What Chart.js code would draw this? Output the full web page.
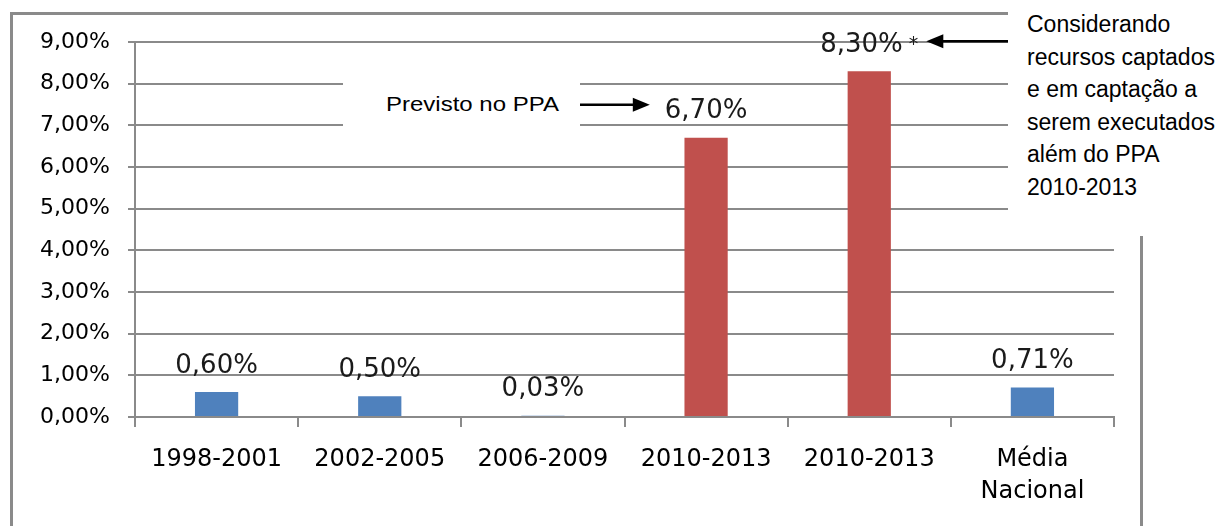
<!DOCTYPE html>
<html>
<head>
<meta charset="utf-8">
<script src="https://cdn.jsdelivr.net/npm/chart.js@4.4.1/dist/chart.umd.min.js"></script>
<style>
  html, body { margin: 0; padding: 0; background: #fff; }
  #wrap { position: relative; width: 1228px; height: 526px; overflow: hidden; }
  #frame { position: absolute; left: 10px; top: 12px; width: 1133px; height: 700px; border: 3px solid #8a8a8a; box-sizing: border-box; }
  #chartBox { position: absolute; left: 0; top: 0; width: 1228px; height: 526px; }
  #note { position: absolute; left: 1008px; top: 0; width: 220px; height: 236px; background: #fff;
          box-sizing: border-box; padding: 8px 0 0 19px; font: 23px/32.5px "Liberation Sans", Arial, sans-serif; color: #000; }
  #previsto { position: absolute; left: 343px; top: 60px; width: 237px; height: 88px; background: #fff; }
  #previsto span { position: absolute; left: 43px; top: 33px; font: 20px/22px "Liberation Sans", Arial, sans-serif;
                   white-space: nowrap; transform: scaleX(1.2); transform-origin: left center; color: #000; }
</style>
</head>
<body>
<div id="wrap">
  <div id="frame"></div>
  <div id="chartBox"><canvas id="ppaChart"></canvas></div>
  <div id="previsto"><span>Previsto no PPA</span></div>
  <div id="note"></div>
</div>
<script>
// dados
const periods = ['1998-2001', '2002-2005', '2006-2009', '2010-2013', '2010-2013', ['Média', 'Nacional']];
const growth = [0.60, 0.50, 0.03, 6.70, 8.30, 0.71];
const projected = [false, false, false, true, true, false];
const labelNotes = ['', '', '', '', ' *', ''];
const yMax = 9;
const yStep = 1;
const noteLines = ['Considerando', 'recursos captados', 'e em captação a', 'serem executados', 'além do PPA', '2010-2013'];

const BLUE = '#4F81BD';
const RED = '#C0504D';
const GRID = '#8a8a8a';
const LABEL_FONT = '26px "DejaVu Sans"';
const LABEL_GAP = 29;

document.getElementById('note').innerHTML = noteLines.join('<br>');

const pct = v => v.toFixed(2).replace('.', ',') + '%';
const labelText = i => pct(growth[i]) + labelNotes[i];

function drawArrow(ctx, fromX, y, tipX) {
  const dir = tipX > fromX ? 1 : -1;
  ctx.strokeStyle = '#000';
  ctx.fillStyle = '#000';
  ctx.lineWidth = 2.5;
  ctx.beginPath();
  ctx.moveTo(fromX, y);
  ctx.lineTo(tipX - dir * 12, y);
  ctx.stroke();
  ctx.beginPath();
  ctx.moveTo(tipX, y);
  ctx.lineTo(tipX - dir * 17, y - 7);
  ctx.lineTo(tipX - dir * 17, y + 7);
  ctx.closePath();
  ctx.fill();
}

const valueLabels = {
  id: 'valueLabels',
  afterDatasetsDraw(chart) {
    const ctx = chart.ctx;
    const bars = chart.getDatasetMeta(0).data;
    ctx.save();
    ctx.fillStyle = '#1a1a1a';
    ctx.textBaseline = 'alphabetic';
    bars.forEach((bar, i) => {
      const main = pct(growth[i]);
      const note = labelNotes[i];
      ctx.font = LABEL_FONT;
      const wMain = ctx.measureText(main).width;
      ctx.font = '19px "DejaVu Sans"';
      const wNote = note ? ctx.measureText(note).width : 0;
      const left = bar.x - (wMain + wNote) / 2;
      const base = bar.y - LABEL_GAP + 9.5;
      ctx.textAlign = 'left';
      ctx.font = LABEL_FONT;
      ctx.fillText(main, left, base);
      if (note) {
        ctx.font = '19px "DejaVu Sans"';
        ctx.fillText(note, left + wMain, base - 2);
      }
    });
    ctx.restore();
  }
};

const arrows = {
  id: 'arrows',
  afterDraw(chart) {
    const ctx = chart.ctx;
    const bars = chart.getDatasetMeta(0).data;
    ctx.save();
    ctx.font = LABEL_FONT;
    // "Previsto no PPA" -> 6,70%
    const b4 = bars[3];
    const w4 = ctx.measureText(pct(growth[3])).width;
    drawArrow(ctx, 580, b4.y - LABEL_GAP - 4, b4.x - w4 / 2 - 15);
    // nota lateral -> 8,30% *
    const b5 = bars[4];
    const w5 = ctx.measureText(pct(growth[4])).width;
    ctx.font = '19px "DejaVu Sans"';
    const wn = ctx.measureText(labelNotes[4]).width;
    drawArrow(ctx, 1008, b5.y - LABEL_GAP - 1, b5.x + (w5 + wn) / 2 + 8);
    ctx.restore();
  }
};

new Chart(document.getElementById('ppaChart'), {
  type: 'bar',
  data: {
    labels: periods,
    datasets: [{
      data: growth,
      backgroundColor: projected.map(p => p ? RED : BLUE),
      barPercentage: 0.265,
      categoryPercentage: 1
    }]
  },
  plugins: [valueLabels, arrows],
  options: {
    responsive: true,
    maintainAspectRatio: false,
    animation: false,
    layout: { padding: { top: 42, right: 114, left: 0, bottom: 0 } },
    plugins: {
      legend: { display: false },
      tooltip: { enabled: false }
    },
    scales: {
      x: {
        afterFit: s => { s.height = 109; },
        grid: { offset: true, drawOnChartArea: false, color: GRID, lineWidth: 2, tickLength: 10 },
        border: { color: GRID, width: 2 },
        ticks: {
          color: '#000',
          padding: 17,
          maxRotation: 0,
          autoSkip: false,
          font: { family: 'DejaVu Sans', size: 24, lineHeight: 1.33 }
        }
      },
      y: {
        min: 0,
        max: yMax,
        afterFit: s => { s.width = 135; },
        grid: { color: GRID, lineWidth: 2, tickLength: 7 },
        border: { color: GRID, width: 2 },
        ticks: {
          stepSize: yStep,
          color: '#000',
          padding: 18,
          font: { family: 'DejaVu Sans', size: 22 },
          callback: v => pct(v)
        }
      }
    }
  }
});
</script>
</body>
</html>
